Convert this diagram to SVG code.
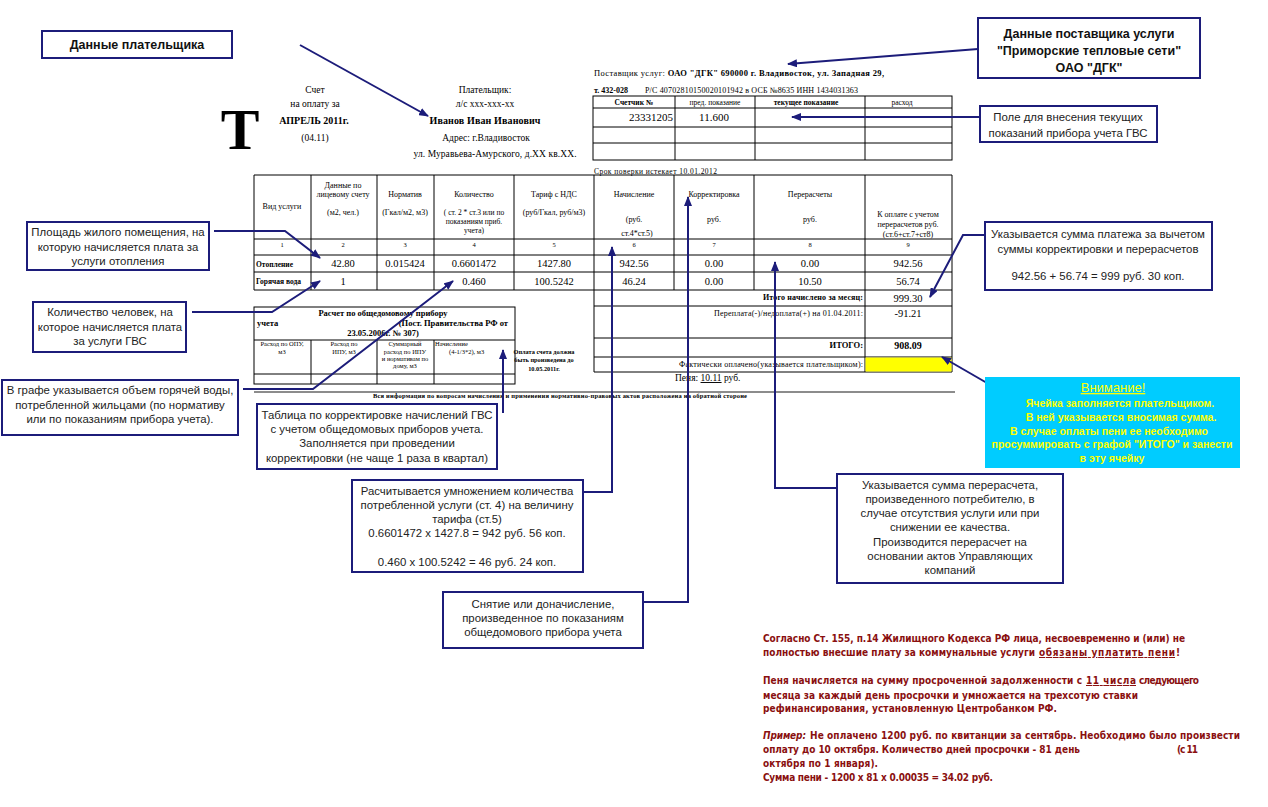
<svg xmlns="http://www.w3.org/2000/svg" width="1268" height="807" viewBox="0 0 1268 807">
<style>
.bx{fill:#fff;stroke:#1c1c7a;stroke-width:2}
.ct{font-family:"Liberation Sans",Arial,sans-serif;font-size:11.4px;fill:#222;text-anchor:middle}
.cb{font-family:"Liberation Sans",Arial,sans-serif;font-size:12.5px;font-weight:bold;fill:#111;text-anchor:middle}
.cn{fill:none;stroke:#1c1c7a;stroke-width:2;marker-end:url(#ah)}
.tl{fill:none;stroke:#000;stroke-width:1}
.s{font-family:"Liberation Serif","Times New Roman",serif;fill:#000}
.m{text-anchor:middle}
.e{text-anchor:end}
.b{font-weight:bold}
.h{font-size:8px}
.v{font-size:10.5px}
.n{font-size:6.5px}
.r{font-family:"DejaVu Sans Condensed","DejaVu Sans",sans-serif;font-weight:bold;font-size:10px;fill:#8a1010}
.y{font-family:"Liberation Sans",Arial,sans-serif;font-weight:bold;font-size:10.5px;fill:#ffff00;text-anchor:middle}
</style>
<defs>
<marker id="ah" viewBox="0 0 10 8" refX="9" refY="4" markerWidth="10" markerHeight="8" markerUnits="userSpaceOnUse" orient="auto">
<path d="M0,0 L10,4 L0,8 z" fill="#1c1c7a"/>
</marker>
</defs>
<rect width="1268" height="807" fill="#fff"/>

<g id="bill">
<text class="s b" x="240" y="149" font-size="58" text-anchor="middle">Т</text>
<text class="s m" x="315" y="93" font-size="9.5">Счет</text>
<text class="s m" x="315" y="107" font-size="9.5">на оплату за</text>
<text class="s m b" x="314" y="124" font-size="10">АПРЕЛЬ 2011г.</text>
<text class="s m" x="315" y="141" font-size="9.5">(04.11)</text>
<text class="s m" x="485" y="93" font-size="9.5">Плательщик:</text>
<text class="s m" x="485" y="107" font-size="9.5">л/с xxx-xxx-xx</text>
<text class="s m b" x="485" y="124" font-size="10" textLength="111">Иванов Иван Иванович</text>
<text class="s m" x="486" y="141" font-size="9.5">Адрес: г.Владивосток</text>
<text class="s m" x="495" y="157" font-size="9.5" textLength="163">ул. Муравьева-Амурского, д.XX  кв.XX.</text>

<text class="s" x="594" y="76" font-size="8.5" textLength="290"><tspan>Поставщик услуг: </tspan><tspan font-weight="bold">ОАО "ДГК" 690000 г. Владивосток, ул. Западная 29,</tspan></text>
<text class="s b" x="594" y="92.5" font-size="8">т. 432-028</text>
<text class="s" x="645" y="92.5" font-size="8" textLength="213">Р/С 40702810150020101942 в ОСБ №8635 ИНН 1434031363</text>

<g class="tl">
<rect x="593" y="96" width="359" height="64"/>
<path d="M593,108H952M593,127H952M593,143H952M675,96V160M755,96V160M865,96V160"/>
</g>
<text class="s m b" x="634" y="105" font-size="7.5">Счетчик №</text>
<text class="s m" x="715" y="105" font-size="7.5">пред. показание</text>
<text class="s m b" x="806" y="105" font-size="7.5">текущее показание</text>
<text class="s m" x="902" y="105" font-size="7.5">расход</text>
<text class="s e" x="673" y="121" font-size="11">23331205</text>
<text class="s m" x="714" y="121" font-size="11">11.600</text>
<text class="s" x="594" y="174" font-size="7.5" textLength="123">Срок поверки истекает  10.01.2012</text>

<g class="tl">
<path d="M254,175H952M254,239H952M254,255H952M254,272H952M254,290H952"/>
<path d="M254,175V290M311,175V290M377,175V290M434,175V290M514,175V290M594,175V372M674,175V290M754,175V290M865,175V372M952,175V372"/>
<path d="M594,306H952M594,338H952M594,357H952M594,372H952"/>
</g>
<rect x="865.5" y="357.5" width="86" height="14" fill="#ffff00"/>
<g class="s h m">
<text x="282" y="209">Вид услуги</text>
<text x="343" y="188">Данные по</text>
<text x="343" y="197">лицевому счету</text>
<text x="343" y="215">(м2, чел.)</text>
<text x="405" y="197">Норматив</text>
<text x="405" y="215">(Гкал/м2, м3)</text>
<text x="474" y="197">Количество</text>
<text x="474" y="215" font-size="7.5">( ст. 2 * ст.3 или по</text>
<text x="474" y="224" font-size="7.5">показаниям приб.</text>
<text x="474" y="233" font-size="7.5">учета)</text>
<text x="554" y="197">Тариф с НДС</text>
<text x="554" y="215">(руб/Гкал, руб/м3)</text>
<text x="634" y="197">Начисление</text>
<text x="634" y="222">(руб.</text>
<text x="637" y="236">ст.4*ст.5)</text>
<text x="714" y="197">Корректировка</text>
<text x="714" y="222">руб.</text>
<text x="810" y="197">Перерасчеты</text>
<text x="810" y="222">руб.</text>
<text x="908" y="217">К оплате с учетом</text>
<text x="908" y="227">перерасчетов руб.</text>
<text x="908" y="237">(ст.6+ст.7+ст8)</text>
</g>
<g class="s n m">
<text x="282" y="247">1</text><text x="343" y="247">2</text><text x="405" y="247">3</text>
<text x="474" y="247">4</text><text x="554" y="247">5</text><text x="634" y="247">6</text>
<text x="714" y="247">7</text><text x="810" y="247">8</text><text x="908" y="247">9</text>
</g>
<text class="s b" x="256" y="266.5" font-size="7.5">Отопление</text>
<text class="s b" x="256" y="284" font-size="7.5">Горячая вода</text>
<g class="s v m">
<text x="343" y="267">42.80</text><text x="405" y="267">0.015424</text><text x="474" y="267">0.6601472</text>
<text x="554" y="267">1427.80</text><text x="634" y="267">942.56</text><text x="714" y="267">0.00</text>
<text x="810" y="267">0.00</text><text x="908" y="267">942.56</text>
<text x="343" y="285">1</text><text x="474" y="285">0.460</text>
<text x="554" y="285">100.5242</text><text x="634" y="285">46.24</text><text x="714" y="285">0.00</text>
<text x="810" y="285">10.50</text><text x="908" y="285">56.74</text>
</g>
<text class="s b e" x="863" y="300" font-size="8" textLength="100">Итого начислено за месяц:</text>
<text class="s v m" x="908" y="302">999.30</text>
<text class="s e" x="863" y="316" font-size="8" textLength="149">Переплата(-)/недоплата(+) на 01.04.2011:</text>
<text class="s v m" x="908" y="317">-91.21</text>
<text class="s b e" x="863" y="348" font-size="8.5">ИТОГО:</text>
<text class="s b m" x="908" y="349" font-size="10">908.09</text>
<text class="s e" x="863" y="367" font-size="8" textLength="184">Фактически оплачено(указывается плательщиком):</text>
<text class="s" x="675" y="381" font-size="9.5">Пеня: <tspan text-decoration="underline">10.11</tspan> руб.</text>

<g class="tl">
<rect x="254" y="307" width="261" height="77"/>
<path d="M254,340H515M254,374H515M311,340V384M377,340V384M434,340V384"/>
</g>
<text class="s b m" x="383" y="316" font-size="8.5">Расчет по общедомовому прибору</text>
<text class="s b" x="257" y="326" font-size="8.5">учета</text>
<text class="s b e" x="508" y="326" font-size="8.5">(Пост. Правительства РФ от</text>
<text class="s b m" x="383" y="336" font-size="8.5">23.05.2006г. № 307)</text>
<g class="s m" font-size="6.5">
<text x="282" y="346">Расход по ОПУ,</text>
<text x="282" y="354">м3</text>
<text x="344" y="346">Расход по</text>
<text x="344" y="354">ИПУ,        м3</text>
<text x="405" y="346">Суммарный</text>
<text x="405" y="354">расход по ИПУ</text>
<text x="405" y="361">и нормативам по</text>
<text x="405" y="368">дому, м3</text>
</g>
<text class="s" x="435" y="346" font-size="6.5">Начисление</text>
<text class="s" x="449" y="354" font-size="6.5">(4-1/3*2), м3</text>
<g class="s b m" font-size="6.3">
<text x="544" y="354">Оплата счета должна</text>
<text x="544" y="362">быть произведена до</text>
<text x="544" y="371">10.05.2011г.</text>
</g>
<path d="M254,392H955" stroke="#666" stroke-width="1.5"/>
<text class="s b" x="373" y="398" font-size="6.5" textLength="374">Вся информация по вопросам начисления и применения нормативно-правовых актов расположена на обратной стороне</text>
</g>

<g id="connectors">
<path class="cn" d="M300,45L428,116"/>
<path class="cn" d="M978,49L788,64"/>
<path class="cn" d="M980,117L792,117"/>
<path class="cn" d="M214,231H285L320,258"/>
<path class="cn" d="M192,312H272L320,281"/>
<path class="cn" d="M243,389H313L453,281"/>
<path class="cn" d="M503,413V350"/>
<path class="cn" d="M583,492H612V247"/>
<path class="cn" d="M643,602H688V197"/>
<path class="cn" d="M837,488H775V262"/>
<path class="cn" d="M985,235H963L930,297"/>
<path class="cn" d="M987,383L942,357"/>
</g>

<g id="n-payer">
<rect class="bx" x="42" y="31" width="190" height="27"/>
<text class="cb" x="137" y="49">Данные плательщика</text>
</g>
<g id="n-supplier">
<rect class="bx" x="978" y="18" width="222" height="60"/>
<text class="cb" x="1089" y="38">Данные поставщика услуги</text>
<text class="cb" x="1089" y="55">"Приморские тепловые сети"</text>
<text class="cb" x="1089" y="72">ОАО "ДГК"</text>
</g>
<g id="n-field">
<rect class="bx" x="980" y="106" width="177" height="36"/>
<text class="ct" x="1068" y="121">Поле для внесения текущих</text>
<text class="ct" x="1068" y="137">показаний прибора учета ГВС</text>
</g>
<g id="n-sum">
<rect class="bx" x="985" y="222" width="227" height="68"/>
<text class="ct" x="1098" y="238">Указывается сумма платежа за вычетом</text>
<text class="ct" x="1098" y="253">суммы корректировки и перерасчетов</text>
<text class="ct" x="1098" y="280">942.56 + 56.74 = 999 руб. 30 коп.</text>
</g>
<g id="n-area">
<rect class="bx" x="27" y="222" width="182" height="48"/>
<text class="ct" x="118" y="236">Площадь жилого помещения, на</text>
<text class="ct" x="118" y="251">которую начисляется плата за</text>
<text class="ct" x="118" y="265">услуги отопления</text>
</g>
<g id="n-people">
<rect class="bx" x="33" y="302" width="153" height="50"/>
<text class="ct" x="110" y="316">Количество человек, на</text>
<text class="ct" x="110" y="331">которое начисляется плата</text>
<text class="ct" x="110" y="345">за услуги ГВС</text>
</g>
<g id="n-volume">
<rect class="bx" x="2" y="380" width="236" height="55"/>
<text class="ct" x="120" y="394">В графе указывается объем горячей воды,</text>
<text class="ct" x="120" y="409">потребленной жильцами (по нормативу</text>
<text class="ct" x="120" y="423">или по показаниям прибора учета).</text>
</g>
<g id="n-odpu">
<rect class="bx" x="257" y="404" width="240" height="65"/>
<text class="ct" x="377" y="419">Таблица по корректировке начислений ГВС</text>
<text class="ct" x="377" y="433">с учетом общедомовых приборов учета.</text>
<text class="ct" x="377" y="447">Заполняется при проведении</text>
<text class="ct" x="377" y="462">корректировки (не чаще 1 раза в квартал)</text>
</g>
<g id="n-calc">
<rect class="bx" x="352" y="480" width="231" height="92"/>
<text class="ct" x="467" y="495">Расчитывается умножением количества</text>
<text class="ct" x="467" y="509">потребленной услуги (ст. 4) на величину</text>
<text class="ct" x="467" y="523">тарифа (ст.5)</text>
<text class="ct" x="467" y="537">0.6601472 x 1427.8 = 942 руб. 56 коп.</text>
<text class="ct" x="467" y="566">0.460 x 100.5242 = 46 руб. 24 коп.</text>
</g>
<g id="n-corr">
<rect class="bx" x="443" y="592" width="200" height="56"/>
<text class="ct" x="543" y="608">Снятие или доначисление,</text>
<text class="ct" x="543" y="622">произведенное по показаниям</text>
<text class="ct" x="543" y="636">общедомового прибора учета</text>
</g>
<g id="n-recalc">
<rect class="bx" x="837" y="474" width="226" height="109"/>
<text class="ct" x="950" y="489">Указывается сумма перерасчета,</text>
<text class="ct" x="950" y="503">произведенного потребителю, в</text>
<text class="ct" x="950" y="517">случае отсутствия услуги или при</text>
<text class="ct" x="950" y="531">снижении ее качества.</text>
<text class="ct" x="950" y="546">Производится перерасчет на</text>
<text class="ct" x="950" y="560">основании актов Управляющих</text>
<text class="ct" x="950" y="574">компаний</text>
</g>
<g id="n-attention">
<rect x="985" y="377" width="255" height="91" fill="#00ccff"/>
<text x="1113" y="392" font-family="Liberation Sans,Arial,sans-serif" font-size="13" fill="#ffff00" text-anchor="middle" text-decoration="underline">Внимание!</text>
<text class="y" x="1120" y="407">Ячейка заполняется плательщиком.</text>
<text class="y" x="1121" y="421">В ней указывается вносимая сумма.</text>
<text class="y" x="1109" y="435">В случае оплаты пени ее необходимо</text>
<text class="y" x="1112" y="448">просуммировать с графой "ИТОГО" и занести</text>
<text class="y" x="1112" y="462">в эту ячейку</text>
</g>

<g id="penalty-note">
<text class="r" x="763" y="642" textLength="422">Согласно Ст. 155, п.14 Жилищного Кодекса РФ лица, несвоевременно и (или) не</text>
<text class="r" x="763" y="656" textLength="272">полностью внесшие плату за коммунальные услуги</text>
<text class="r" x="1039" y="656" font-size="11" textLength="136" text-decoration="underline">обязаны уплатить пени</text>
<text class="r" x="1176" y="656" font-size="11">!</text>
<text class="r" x="763" y="684" textLength="319">Пеня начисляется на сумму просроченной задолженности с</text>
<text class="r" x="1086" y="684" textLength="50" text-decoration="underline">11 числа </text>
<text class="r" x="1139" y="684" textLength="60">следующего</text>
<text class="r" x="763" y="699" textLength="375">месяца за каждый день просрочки и умножается на трехсотую ставки</text>
<text class="r" x="763" y="712" textLength="294">рефинансирования, установленную Центробанком РФ.</text>
<text class="r" x="763" y="739" font-style="italic" textLength="43">Пример:</text>
<text class="r" x="810" y="739" textLength="430">Не оплачено 1200 руб. по квитанции за сентябрь. Необходимо было  произвести</text>
<text class="r" x="763" y="753" textLength="317">оплату до 10 октября. Количество дней просрочки - 81 день</text>
<text class="r" x="1177" y="753" textLength="21">(с 11</text>
<text class="r" x="763" y="767" textLength="115">октября по 1 января).</text>
<text class="r" x="763" y="781" textLength="230">Сумма пени - 1200 x 81 x 0.00035 = 34.02 руб.</text>
</g>
</svg>
